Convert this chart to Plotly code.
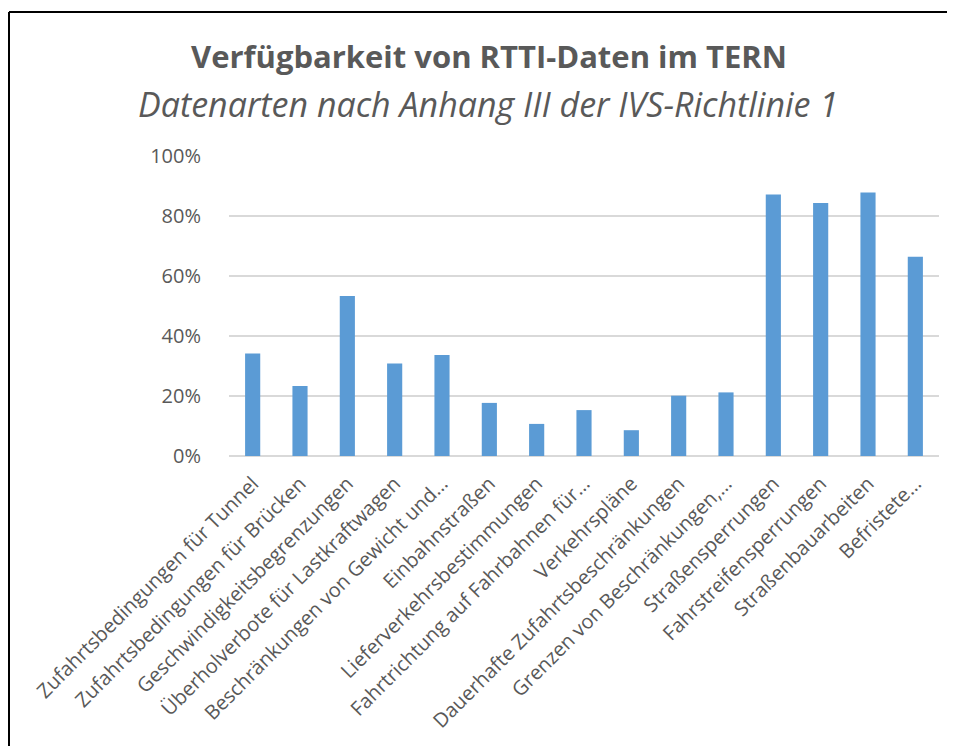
import plotly.graph_objects as go

categories = [
    "Zufahrtsbedingungen für Tunnel",
    "Zufahrtsbedingungen für Brücken",
    "Geschwindigkeitsbegrenzungen",
    "Überholverbote für Lastkraftwagen",
    "Beschränkungen von Gewicht und…",
    "Einbahnstraßen",
    "Lieferverkehrsbestimmungen",
    "Fahrtrichtung auf Fahrbahnen für…",
    "Verkehrspläne",
    "Dauerhafte Zufahrtsbeschränkungen",
    "Grenzen von Beschränkungen,…",
    "Straßensperrungen",
    "Fahrstreifensperrungen",
    "Straßenbauarbeiten",
    "Befristete…",
]
values = [0.342, 0.233, 0.533, 0.308, 0.337, 0.177, 0.107, 0.153,
          0.086, 0.201, 0.212, 0.872, 0.843, 0.878, 0.664]
y_ticks = [0, 0.2, 0.4, 0.6, 0.8, 1.0]
y_tick_labels = ["0%", "20%", "40%", "60%", "80%", "100%"]

title_text = "Verfügbarkeit von RTTI-Daten im TERN"
subtitle_text = "Datenarten nach Anhang III der IVS-Richtlinie 1"

TEXT = "#595959"
FONT = "Open Sans"

fig = go.Figure(go.Bar(x=categories, y=values, marker_color="#5B9BD5",
                       marker_line_width=0))

OFF = 8  # browser body margin
W, H = 955 - 2 * OFF, 754 - 2 * OFF
L, T = 229 - OFF, 156 - OFF
R = W - (939 - OFF)
B = H - (456 - OFF)
pw = W - L - R
ph = H - T - B

def px_x(x):
    return (x - OFF - L) / pw

def px_y(y):
    return (T + ph - (y - OFF)) / ph

border = dict(color="black", width=2)

fig.update_layout(
    width=W, height=H,
    margin=dict(l=L, r=R, t=T, b=B, autoexpand=False),
    paper_bgcolor="white", plot_bgcolor="white",
    bargap=0.68,
    showlegend=False,
    font=dict(family=FONT, color=TEXT),
    title=dict(text="<b>" + title_text + "</b>", xref="container", yref="container",
               x=(489 - OFF) / W, xanchor="center", y=1 - (57 - OFF) / H, yanchor="middle",
               font=dict(family=FONT, size=31, color=TEXT)),
    annotations=[dict(text="<i>" + subtitle_text + "</i>", xref="paper", yref="paper",
                      x=px_x(488), y=px_y(104), xanchor="center",
                      yanchor="middle", showarrow=False,
                      font=dict(family=FONT, size=34, color=TEXT))],
    shapes=[
        dict(type="line", xref="paper", yref="paper",
             x0=px_x(9), x1=px_x(1000), y0=px_y(12), y1=px_y(12),
             line=border, layer="below"),
        dict(type="line", xref="paper", yref="paper",
             x0=px_x(9), x1=px_x(9), y0=px_y(12), y1=px_y(800),
             line=border, layer="below"),
    ],
)
fig.update_xaxes(tickangle=-45, tickfont=dict(size=20, color=TEXT, family=FONT),
                 showline=False, ticks="outside", ticklen=7,
                 tickcolor="rgba(0,0,0,0)", showgrid=False)
fig.update_yaxes(range=[0, 1.0], tickvals=y_ticks, ticktext=y_tick_labels,
                 tickfont=dict(size=20, color=TEXT, family=FONT),
                 showgrid=True, gridcolor="#D9D9D9", gridwidth=1.5,
                 zeroline=True, zerolinecolor="#D9D9D9", zerolinewidth=1.5,
                 showline=False, ticks="outside", ticklen=23, tickcolor="rgba(0,0,0,0)")

fig.write_html("out.html")
